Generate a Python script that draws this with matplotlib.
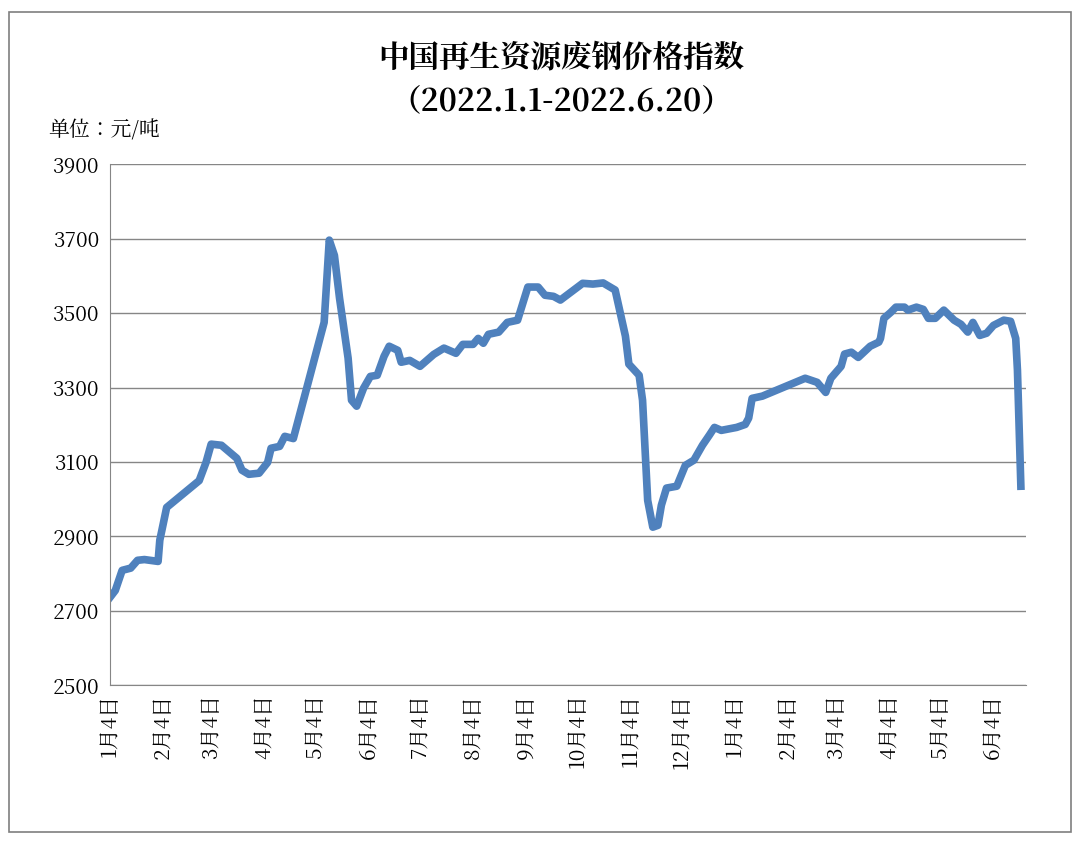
import matplotlib
matplotlib.use("Agg")
import matplotlib.pyplot as plt
import matplotlib.dates as mdates
from matplotlib import font_manager as fm
import datetime as dt

cjk = [f for f in fm.fontManager.ttflist if "CJK" in f.name]
names = [f.name for f in cjk if "SC" in f.name] or [f.name for f in cjk]
fam = names[0] if names else "DejaVu Sans"
plt.rcParams["font.family"] = [fam, "DejaVu Sans"]

start = "2021-01-04"
day_offsets = [0,3,7,12,16,20,28,29,33,52,56,59,65,74,77,81,87,92,94,99,102,107,125,128,131,134,139,141,144,148,152,156,160,163,168,170,175,181,189,195,202,206,212,215,218,221,227,232,238,244,250,254,259,263,276,282,288,295,301,303,309,311,314,317,320,322,325,331,336,341,346,350,353,357,366,371,373,375,381,406,413,418,421,427,429,433,437,444,449,450,452,456,459,464,466,471,475,478,482,487,493,497,501,504,508,512,516,522,526,529,530,532]
values = [2737,2755,2809,2815,2836,2838,2833,2890,2978,3050,3099,3148,3145,3110,3078,3067,3070,3099,3137,3142,3169,3163,3475,3696,3655,3540,3379,3266,3250,3298,3330,3333,3384,3411,3400,3368,3373,3357,3389,3406,3392,3416,3416,3432,3419,3443,3449,3475,3481,3570,3570,3548,3545,3535,3580,3578,3581,3562,3438,3363,3333,3266,2997,2925,2930,2984,3030,3035,3091,3105,3145,3172,3193,3185,3193,3201,3218,3271,3277,3325,3314,3287,3325,3357,3390,3395,3381,3411,3422,3432,3486,3502,3516,3516,3508,3516,3510,3486,3486,3508,3481,3470,3449,3475,3440,3446,3467,3481,3478,3432,3347,3035]
title = "中国再生资源废钢价格指数\n（2022.1.1-2022.6.20）"
unit = "单位：元/吨"

d0 = dt.datetime.fromisoformat(start)
dates = [d0 + dt.timedelta(days=d) for d in day_offsets]

fig = plt.figure(figsize=(10.8, 8.42), dpi=100)
fig.patches.append(plt.Rectangle((0.008, 0.012), 0.984, 0.974, transform=fig.transFigure,
                                 fill=False, edgecolor="#7f7f7f", lw=1.2))
ax = fig.add_axes([0.102, 0.186, 0.848, 0.619])
ax.plot(dates, values, color="#4F81BD", lw=5.5, solid_joinstyle="round")
ax.set_ylim(2500, 3900)
ax.set_yticks(range(2500, 3901, 200))
ax.set_xlim(d0, d0 + dt.timedelta(days=535))
ax.xaxis.set_major_locator(mdates.MonthLocator(bymonthday=4))
ax.xaxis.set_major_formatter(plt.FuncFormatter(lambda v, p: f"{mdates.num2date(v).month}月4日"))
ax.tick_params(axis="x", labelrotation=90, labelsize=15, length=0, pad=6)
ax.tick_params(axis="y", labelsize=15, length=0, pad=8)
ax.grid(axis="y", color="#868686", lw=1)
ax.set_axisbelow(True)
for s in ["top", "right"]:
    ax.spines[s].set_visible(False)
for s in ["left", "bottom"]:
    ax.spines[s].set_color("#868686")
fig.text(0.52, 0.905, title, ha="center", va="center", fontsize=22, fontweight="bold", linespacing=1.4)
fig.text(0.045, 0.845, unit, ha="left", va="center", fontsize=15)
fig.savefig("out.png")
